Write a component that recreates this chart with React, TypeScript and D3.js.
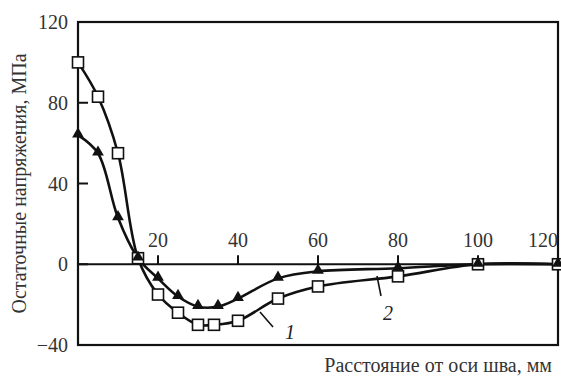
import React from "react";
import * as d3 from "d3";

const distance1 = [0, 5, 10, 15, 20, 25, 30, 35, 40, 50, 60, 80, 100, 120];
const stress1 = [64, 55, 23, 3, -7, -16, -21, -21, -17, -7, -3.5, -2, 0, 0];

const distance2 = [0, 5, 10, 15, 20, 25, 30, 34, 40, 50, 60, 80, 100, 120];
const stress2 = [100, 83, 55, 3, -15, -24, -30, -30, -28, -17, -11, -6, 0, 0];

const xTicks = [20, 40, 60, 80, 100, 120];
const yTicks = [120, 80, 40, 0, -40];

const serif = { fontFamily: `"Liberation Serif"` };

export default function App() {
  const width = 561;
  const height = 377;
  const x = d3.scaleLinear().domain([0, 120]).range([78, 558]);
  const y = d3.scaleLinear().domain([-40, 120]).range([345, 22]);

  const line = d3
    .line<[number, number]>()
    .x((d) => x(d[0]))
    .y((d) => y(d[1]))
    .curve(d3.curveCatmullRom.alpha(0.5));

  const pts1 = distance1.map((d, i) => [d, stress1[i]] as [number, number]);
  const pts2 = distance2.map((d, i) => [d, stress2[i]] as [number, number]);
  const tri = d3.symbol().type(d3.symbolTriangle).size(60)() || "";

  return (
    <svg
      width={width}
      height={height}
      fontFamily="Liberation Serif, Times New Roman, serif"
      style={{ position: "absolute", left: 0, top: 0, background: "#fff" }}
    >
      <rect
        x={x(0)}
        y={y(120)}
        width={x(120) - x(0)}
        height={y(-40) - y(120)}
        fill="none"
        stroke="#111"
        strokeWidth={2.2}
      />
      <line x1={x(0)} x2={x(120)} y1={y(0)} y2={y(0)} stroke="#111" strokeWidth={2} />

      {yTicks.map((t) => (
        <g key={"y" + t}>
          {t !== 120 && t !== -40 && (
            <line x1={x(0)} x2={x(0) + 10} y1={y(t)} y2={y(t)} stroke="#111" strokeWidth={2} />
          )}
          <text x={68} y={y(t)} dy="0.35em" textAnchor="end" fontSize={20} fill="#333" style={serif}>
            {t < 0 ? "\u2212" + Math.abs(t) : String(t)}
          </text>
        </g>
      ))}

      {xTicks.map((t) => (
        <g key={"x" + t}>
          {t !== 120 && (
            <line x1={x(t)} x2={x(t)} y1={y(0)} y2={y(0) - 9} stroke="#111" strokeWidth={2} />
          )}
          <text
            x={x(t)}
            y={y(0) - 17}
            textAnchor={t === 120 ? "end" : "middle"}
            fontSize={20}
            fill="#333"
            style={serif}
          >
            {String(t)}
          </text>
        </g>
      ))}

      {[pts1, pts2].map((pts, i) => (
        <path key={"l" + i} d={line(pts) || ""} fill="none" stroke="#111" strokeWidth={2.6} />
      ))}

      {pts2.map((d, i) => (
        <rect
          key={"s" + i}
          x={x(d[0]) - 5.5}
          y={y(d[1]) - 5.5}
          width={11}
          height={11}
          fill="#fff"
          stroke="#111"
          strokeWidth={1.6}
        />
      ))}

      {pts1.map((d, i) => (
        <path key={"t" + i} d={tri} transform={`translate(${x(d[0])},${y(d[1]) - 1})`} fill="#111" />
      ))}

      <line x1={260} y1={312} x2={273} y2={327} stroke="#111" strokeWidth={1.6} />
      <text x={290} y={339} textAnchor="middle" fontSize={20} fontStyle="italic" fill="#222" style={serif}>
        1
      </text>
      <line x1={377} y1={276} x2={381} y2={296} stroke="#111" strokeWidth={1.6} />
      <text x={388} y={320} textAnchor="middle" fontSize={20} fontStyle="italic" fill="#222" style={serif}>
        2
      </text>

      <text x={552} y={372} textAnchor="end" fontSize={20} fill="#333" style={serif}>
        Расстояние от оси шва, мм
      </text>
      <text
        transform={`translate(26,${(22 + 345) / 2}) rotate(-90)`}
        textAnchor="middle"
        fontSize={20}
        fill="#333"
        style={serif}
      >
        Остаточные напряжения, МПа
      </text>
    </svg>
  );
}
